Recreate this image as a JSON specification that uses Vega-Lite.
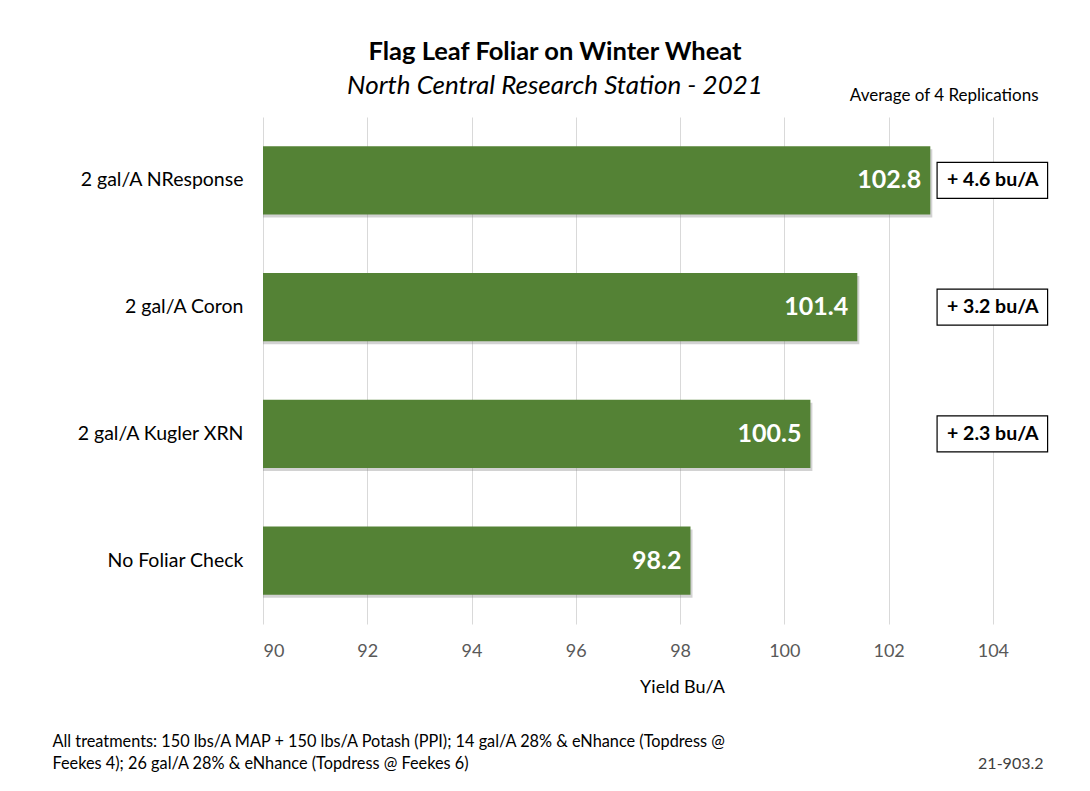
{
  "$schema": "https://vega.github.io/schema/vega-lite/v6.json",
  "width": 782,
  "height": 507,
  "autosize": {"type": "none"},
  "padding": {"left": 263, "top": 117, "right": 45, "bottom": 167},
  "background": "white",
  "config": {
    "font": "Lato",
    "view": {"stroke": null}
  },
  "title": {
    "text": "Flag Leaf Foliar on Winter Wheat",
    "subtitle": "North Central Research Station - 2021",
    "anchor": "middle",
    "dx": -99,
    "offset": -13,
    "font": "Lato",
    "fontSize": 25.5,
    "fontWeight": "bold",
    "color": "black",
    "subtitleFont": "Lato",
    "subtitleFontSize": 26,
    "subtitleFontStyle": "italic",
    "subtitleColor": "black",
    "subtitlePadding": 8
  },
  "data": {
    "values": [
      {"treatment": "2 gal/A NResponse", "yield": 102.8, "gain": "+ 4.6 bu/A"},
      {"treatment": "2 gal/A Coron", "yield": 101.4, "gain": "+ 3.2 bu/A"},
      {"treatment": "2 gal/A Kugler XRN", "yield": 100.5, "gain": "+ 2.3 bu/A"},
      {"treatment": "No Foliar Check", "yield": 98.2, "gain": null}
    ]
  },
  "layer": [
    {
      "mark": {"type": "bar", "color": "#7f7f7f", "opacity": 0.35, "xOffset": 2, "yOffset": 3},
      "encoding": {
        "y": {"field": "treatment", "type": "nominal", "sort": ["2 gal/A NResponse", "2 gal/A Coron", "2 gal/A Kugler XRN", "No Foliar Check"], "scale": {"paddingInner": 0.46, "paddingOuter": 0.23}, "axis": null},
        "x": {"field": "yield", "type": "quantitative", "axis": null},
        "x2": {"datum": 90}
      }
    },
    {
      "mark": {"type": "bar", "color": "#548235"},
      "encoding": {
        "y": {
          "field": "treatment", "type": "nominal",
          "sort": ["2 gal/A NResponse", "2 gal/A Coron", "2 gal/A Kugler XRN", "No Foliar Check"],
          "axis": {
            "orient": "left",
            "ticks": false, "domain": false, "grid": false,
            "labelFont": "Lato", "labelFontSize": 19.5, "labelColor": "black", "labelPadding": 20,
            "title": ["All treatments: 150 lbs/A MAP + 150 lbs/A Potash (PPI); 14 gal/A 28% & eNhance (Topdress @", "Feekes 4); 26 gal/A 28% & eNhance (Topdress @ Feekes 6)"],
            "titleAngle": 0, "titleAlign": "left", "titleBaseline": "alphabetic",
            "titleX": -211, "titleY": 629,
            "titleFont": "Lato", "titleFontSize": 16.3, "titleFontWeight": "normal", "titleColor": "black", "titleLineHeight": 22
          }
        },
        "x": {
          "field": "yield", "type": "quantitative",
          "scale": {"domain": [90, 105], "zero": false, "nice": false},
          "axis": {
            "orient": "bottom",
            "values": [90, 92, 94, 96, 98, 100, 102, 104],
            "grid": true, "gridColor": "#d9d9d9", "gridWidth": 1,
            "ticks": false, "domain": false,
            "labelFont": "Lato", "labelFontSize": 18, "labelColor": "#595959", "labelPadding": 18,
            "title": "Yield Bu/A",
            "titleFont": "Lato", "titleFontSize": 18, "titleFontWeight": "normal", "titleColor": "black",
            "titleX": 419, "titlePadding": 18
          }
        },
        "x2": {"datum": 90}
      }
    },
    {
      "mark": {"type": "text", "align": "right", "baseline": "middle", "dx": -9, "color": "white", "fontWeight": "bold", "fontSize": 25, "font": "Lato"},
      "encoding": {
        "y": {"field": "treatment", "type": "nominal", "sort": ["2 gal/A NResponse", "2 gal/A Coron", "2 gal/A Kugler XRN", "No Foliar Check"], "axis": null},
        "x": {
          "field": "yield", "type": "quantitative",
          "axis": {
            "orient": "top",
            "labels": false, "ticks": false, "domain": false, "grid": false,
            "title": "Average of 4 Replications",
            "titleAlign": "right", "titleBaseline": "alphabetic",
            "titleX": 775, "titleY": -17,
            "titleFont": "Lato", "titleFontSize": 17, "titleFontWeight": "normal", "titleColor": "black"
          }
        },
        "text": {"field": "yield", "type": "quantitative", "format": ".1f"}
      }
    },
    {
      "transform": [{"filter": "datum.gain != null"}],
      "mark": {"type": "bar", "fill": "white", "stroke": "black", "strokeWidth": 1.2, "height": 36},
      "encoding": {
        "y": {
          "field": "treatment", "type": "nominal",
          "sort": ["2 gal/A NResponse", "2 gal/A Coron", "2 gal/A Kugler XRN", "No Foliar Check"],
          "axis": {
            "orient": "right",
            "labels": false, "ticks": false, "domain": false, "grid": false,
            "title": "21-903.2",
            "titleAngle": 0, "titleAlign": "right", "titleBaseline": "alphabetic",
            "titleX": -2, "titleY": 651,
            "titleFont": "Lato", "titleFontSize": 16, "titleFontWeight": "normal", "titleColor": "#404040"
          }
        },
        "x": {"datum": 102.93, "type": "quantitative", "axis": null},
        "x2": {"datum": 105.05}
      }
    },
    {
      "transform": [{"filter": "datum.gain != null"}],
      "mark": {"type": "text", "align": "center", "baseline": "middle", "color": "black", "fontWeight": "bold", "fontSize": 19.5, "font": "Lato"},
      "encoding": {
        "y": {"field": "treatment", "type": "nominal", "sort": ["2 gal/A NResponse", "2 gal/A Coron", "2 gal/A Kugler XRN", "No Foliar Check"], "axis": null},
        "x": {"datum": 104.0, "type": "quantitative", "axis": null},
        "text": {"field": "gain", "type": "nominal"}
      }
    }
  ],
  "resolve": {"axis": {"x": "independent", "y": "independent"}}
}
